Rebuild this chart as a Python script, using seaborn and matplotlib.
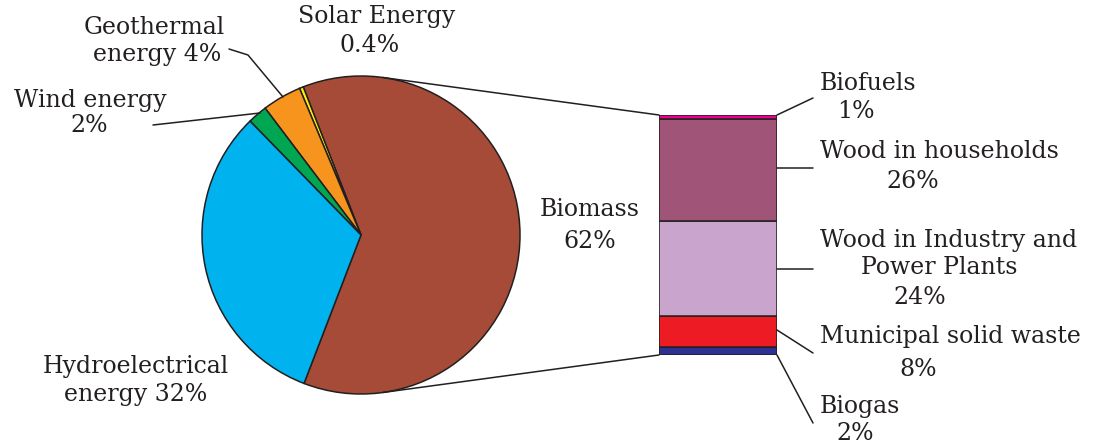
import numpy as np
import matplotlib.pyplot as plt
import seaborn as sns
from matplotlib.patches import ConnectionPatch
from matplotlib.lines import Line2D

# pie data
sources = ['Biomass', 'Solar Energy', 'Geothermal energy', 'Wind energy', 'Hydroelectrical energy']
shares = [62, 0.4, 4, 2, 32]
pie_colors = ['#A54B37', '#FFF200', '#F7941E', '#00A651', '#00B2EE']

# biomass breakdown (bottom to top)
bio_parts = ['Biogas', 'Municipal solid waste', 'Wood in Industry and Power Plants',
             'Wood in households', 'Biofuels']
bio_shares = [2, 8, 24, 26, 1]
bar_colors = ['#2E3192', '#ED1C24', '#C9A5CD', '#A05578', '#EC008C']

W, H = 1120, 446
sns.set_theme(style='white')
plt.rcParams['font.family'] = ['DejaVu Serif']
txt = '#231F20'
fs = 17

fig = plt.figure(figsize=(W / 100, H / 100), dpi=100)


def px(x, y):
    return x / W, 1 - y / H


# pie axes: centre (361, 235), radius 159 px
cx, cy, r = 361, 235, 159
ax = fig.add_axes([(cx - r) / W, (H - cy - r) / H, 2 * r / W, 2 * r / H])
ax.pie(shares, colors=pie_colors, startangle=-111, counterclock=True,
       wedgeprops=dict(edgecolor='#231F20', linewidth=1.1))
ax.set_xlim(-1, 1)
ax.set_ylim(-1, 1)
ax.set_aspect('equal')
ax.axis('off')

# stacked bar axes
bx0, bx1, by0, by1 = 659, 777, 115, 355
bax = fig.add_axes([bx0 / W, (H - by1) / H, (bx1 - bx0) / W, (by1 - by0) / H])
bottoms = np.concatenate([[0], np.cumsum(bio_shares)[:-1]])
for part, val, b, c in zip(bio_parts, bio_shares, bottoms, bar_colors):
    bax.bar(0, val, bottom=b, width=1, color=c, edgecolor='#231F20', linewidth=1.1)
bax.set_xlim(-0.5, 0.5)
bax.set_ylim(0, sum(bio_shares))
bax.axis('off')

# connection lines pie -> bar (tangent points)
total = sum(bio_shares)
for ang, yb in [(82, total), (-82, 0)]:
    a = np.deg2rad(ang)
    con = ConnectionPatch(xyA=(np.cos(a), np.sin(a)), coordsA=ax.transData,
                          xyB=(-0.5, yb), coordsB=bax.transData,
                          color='#231F20', linewidth=1.1)
    fig.add_artist(con)

# leader lines
leaders = [
    [(229, 49), (248, 55), (283, 97)],
    [(153, 125), (260, 113)],
    [(777, 115), (813, 98)],
    [(777, 168), (813, 168)],
    [(777, 269), (813, 269)],
    [(777, 330), (813, 353)],
    [(777, 355), (813, 423)],
]
for pts in leaders:
    xs, ys = zip(*[px(*p) for p in pts])
    fig.add_artist(Line2D(xs, ys, color='#231F20', linewidth=1.1))

# labels
labels = [
    ('Solar Energy', 377, 17, 'center'),
    ('0.4%', 370, 45, 'center'),
    ('Geothermal', 154, 27, 'center'),
    ('energy 4%', 157, 55, 'center'),
    ('Wind energy', 90, 100, 'center'),
    ('2%', 89, 126, 'center'),
    ('Hydroelectrical', 136, 366, 'center'),
    ('energy 32%', 136, 395, 'center'),
    ('Biomass', 590, 210, 'center'),
    ('62%', 590, 241, 'center'),
    ('Biofuels', 820, 83, 'left'),
    ('1%', 856, 111, 'center'),
    ('Wood in households', 820, 152, 'left'),
    ('26%', 913, 181, 'center'),
    ('Wood in Industry and', 820, 240, 'left'),
    ('Power Plants', 939, 267, 'center'),
    ('24%', 920, 298, 'center'),
    ('Municipal solid waste', 820, 337, 'left'),
    ('8%', 918, 370, 'center'),
    ('Biogas', 820, 407, 'left'),
    ('2%', 855, 433, 'center'),
]
for s, x, y, ha in labels:
    fx, fy = px(x, y)
    fig.text(fx, fy, s, ha=ha, va='center', fontsize=fs, color=txt)

fig.savefig('out.png', dpi=100)
